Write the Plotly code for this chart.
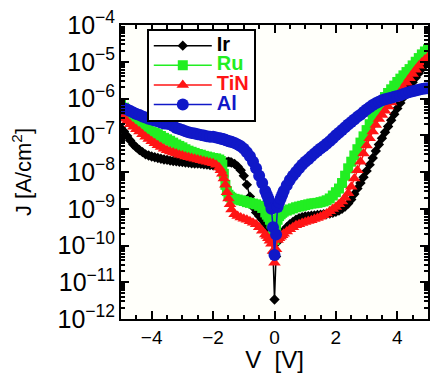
import plotly.graph_objects as go

# Voltage sweep points (V)
voltage = [-5.0, -4.9, -4.8, -4.7, -4.6, -4.5, -4.4, -4.3, -4.2, -4.1, -4.0, -3.9, -3.8, -3.7, -3.6, -3.5,
           -3.4, -3.3, -3.2, -3.1, -3.0, -2.9, -2.8, -2.7, -2.6, -2.5, -2.4, -2.3, -2.2, -2.1, -2.0,
           -1.9, -1.8, -1.75, -1.7, -1.65, -1.6, -1.55, -1.5, -1.45, -1.4, -1.3, -1.2, -1.1, -1.0, -0.9,
           -0.8, -0.7, -0.6, -0.5, -0.4, -0.3, -0.25, -0.2, -0.15, -0.1, -0.05, 0.0, 0.05, 0.1, 0.15,
           0.2, 0.25, 0.3,
           0.4, 0.5, 0.6, 0.7, 0.8, 0.9, 1.0, 1.1, 1.2, 1.3, 1.4, 1.5, 1.6, 1.7, 1.8, 1.9, 2.0, 2.1,
           2.2, 2.3, 2.4, 2.5, 2.6, 2.7, 2.8, 2.9, 3.0, 3.1, 3.2, 3.3, 3.4, 3.5, 3.6, 3.7, 3.8, 3.9,
           4.0, 4.1, 4.2, 4.3, 4.4, 4.5, 4.6, 4.7, 4.8, 4.9, 5.0]

# log10 of current density J [A/cm^2]
ir_log_j = [-6.80, -6.90, -7.02, -7.14, -7.25, -7.33, -7.40, -7.46, -7.52, -7.55, -7.58, -7.60, -7.62, -7.64, -7.66, -7.67,
            -7.69, -7.70, -7.71, -7.72, -7.73, -7.74, -7.75, -7.76, -7.77, -7.77, -7.78, -7.79, -7.80, -7.81, -7.82,
            -7.83, -7.84, -7.83, -7.82, -7.79, -7.76, -7.73, -7.72, -7.73, -7.74, -7.78, -7.85, -7.95, -8.10, -8.35,
            -8.67, -8.95, -9.10, -9.20, -9.30, -9.40, -9.46, -9.55, -9.66, -9.80, -10.20, -11.47, -10.30, -9.90, -9.78,
            -9.70, -9.65, -9.60,
            -9.50, -9.42, -9.36, -9.30, -9.26, -9.23, -9.21, -9.20, -9.19, -9.18, -9.17, -9.16, -9.15, -9.14, -9.13, -9.11, -9.08, -9.05,
            -9.00, -8.94, -8.86, -8.75, -8.60, -8.45, -8.30, -8.14, -7.97, -7.80, -7.62, -7.43, -7.25, -7.08, -6.92, -6.76, -6.59, -6.43,
            -6.27, -6.12, -5.97, -5.83, -5.69, -5.56, -5.43, -5.31, -5.19, -5.08, -4.98]

ru_log_j = [-6.17, -6.25, -6.35, -6.45, -6.55, -6.62, -6.68, -6.74, -6.80, -6.85, -6.90, -6.93, -6.97, -7.02, -7.07, -7.11,
            -7.15, -7.20, -7.25, -7.29, -7.33, -7.38, -7.42, -7.45, -7.48, -7.51, -7.53, -7.56, -7.58, -7.60, -7.62,
            -7.63, -7.66, -7.70, -7.80, -8.05, -8.35, -8.52, -8.62, -8.67, -8.70, -8.73, -8.75, -8.77, -8.79, -8.82,
            -8.84, -8.86, -8.88, -8.92, -8.98, -9.10, -9.16, -9.22, -9.30, -9.40, -9.60, -9.85, -9.55, -9.30, -9.20,
            -9.15, -9.11, -9.08,
            -9.05, -9.02, -8.99, -8.96, -8.94, -8.92, -8.90, -8.88, -8.86, -8.85, -8.84, -8.82, -8.80, -8.77, -8.72, -8.64, -8.55, -8.45,
            -8.30, -8.10, -7.90, -7.72, -7.55, -7.38, -7.20, -7.03, -6.86, -6.70, -6.54, -6.38, -6.22, -6.08, -5.96, -5.85, -5.75, -5.65,
            -5.55, -5.46, -5.37, -5.28, -5.20, -5.10, -5.00, -4.90, -4.80, -4.72, -4.66]

tin_log_j = [-6.47, -6.55, -6.62, -6.70, -6.77, -6.84, -6.90, -6.97, -7.04, -7.10, -7.16, -7.22, -7.27, -7.32, -7.37, -7.41,
             -7.44, -7.47, -7.50, -7.53, -7.55, -7.58, -7.60, -7.62, -7.64, -7.66, -7.68, -7.70, -7.72, -7.74, -7.76,
             -7.80, -7.88, -7.95, -8.05, -8.18, -8.35, -8.55, -8.72, -8.88, -9.02, -9.15, -9.20, -9.24, -9.27, -9.30,
             -9.34, -9.38, -9.42, -9.50, -9.60, -9.70, -9.74, -9.80, -9.87, -9.95, -10.15, -10.47, -10.10, -9.85, -9.80,
             -9.76, -9.72, -9.68,
             -9.62, -9.56, -9.50, -9.45, -9.42, -9.39, -9.36, -9.33, -9.31, -9.28, -9.25, -9.22, -9.18, -9.13, -9.07, -9.01, -8.95, -8.88,
             -8.80, -8.70, -8.58, -8.40, -8.18, -7.95, -7.72, -7.50, -7.28, -7.08, -6.90, -6.72, -6.56, -6.45, -6.33, -6.22, -6.11, -6.02,
             -5.93, -5.82, -5.70, -5.57, -5.45, -5.33, -5.22, -5.11, -5.02, -4.94, -4.87]

al_log_j = [-6.27, -6.27, -6.30, -6.34, -6.38, -6.42, -6.45, -6.49, -6.52, -6.55, -6.57, -6.60, -6.62, -6.65, -6.68, -6.69,
            -6.70, -6.75, -6.80, -6.83, -6.86, -6.89, -6.92, -6.94, -6.95, -6.97, -6.99, -7.01, -7.03, -7.04, -7.04,
            -7.06, -7.08, -7.09, -7.10, -7.11, -7.13, -7.14, -7.16, -7.17, -7.18, -7.21, -7.25, -7.30, -7.37, -7.46,
            -7.57, -7.72, -7.90, -8.10, -8.30, -8.52, -8.62, -8.72, -8.85, -9.00, -9.50, -10.26, -9.70, -8.95, -8.82,
            -8.72, -8.62, -8.52,
            -8.36, -8.22, -8.10, -8.00, -7.90, -7.80, -7.72, -7.65, -7.57, -7.50, -7.43, -7.36, -7.30, -7.23, -7.16, -7.08, -7.00, -6.93,
            -6.86, -6.78, -6.71, -6.64, -6.57, -6.50, -6.44, -6.37, -6.30, -6.24, -6.18, -6.13, -6.09, -6.05, -6.02, -6.00, -5.98, -5.95,
            -5.93, -5.91, -5.88, -5.85, -5.82, -5.80, -5.78, -5.76, -5.74, -5.73, -5.72]

series_names = ["Ir", "Ru", "TiN", "Al"]
series_data = [ir_log_j, ru_log_j, tin_log_j, al_log_j]
series_colors = ["#000000", "#22ee22", "#ff1515", "#1018c8"]
series_symbols = ["diamond", "square", "triangle-up", "circle"]
series_sizes = [8, 10, 11, 12]

FONT = "Liberation Sans, Arial, Helvetica, sans-serif"

fig = go.Figure()
for name, logs, color, sym, size in zip(series_names, series_data, series_colors, series_symbols, series_sizes):
    fig.add_trace(go.Scatter(
        x=voltage,
        y=[10 ** v for v in logs],
        mode="lines+markers",
        name=f'<span style="font-size:20px;color:{color}"><b>{name}</b></span>',
        line=dict(color=color, width=1.5),
        marker=dict(symbol=sym, size=size, color=color, line=dict(width=0)),
    ))

axis_common = dict(
    showline=True, linecolor="black", linewidth=2, mirror="allticks",
    ticks="inside", ticklen=8, tickwidth=1.5, tickcolor="black",
    showgrid=False, zeroline=False,
)

fig.update_layout(
    width=433, height=373,
    margin=dict(l=121, r=3, t=25, b=45),
    paper_bgcolor="white",
    plot_bgcolor="#fffffa",
    font=dict(family=FONT, color="black"),
    showlegend=True,
    legend=dict(
        x=0.084, y=0.987, xanchor="left", yanchor="top",
        bgcolor="white", bordercolor="black", borderwidth=2,
        font=dict(family=FONT, size=12.8, color="black"),
        itemwidth=58, tracegroupgap=0,
    ),
    xaxis=dict(
        range=[-5, 5], dtick=2, tick0=0,
        minor=dict(dtick=0.5, ticks="inside", ticklen=4, tickcolor="black", showgrid=False),
        title=dict(text="V\u00a0 [V]", font=dict(family=FONT, size=24), standoff=5),
        tickfont=dict(family=FONT, size=19, color="black"),
        **axis_common,
    ),
    yaxis=dict(
        type="log", range=[-12, -4], dtick=1, exponentformat="power",
        minor=dict(dtick="D1", ticks="inside", ticklen=4, tickcolor="black", showgrid=False),
        title=dict(text="J [A/cm<sup>2</sup>]", font=dict(family=FONT, size=22), standoff=20),
        tickfont=dict(family=FONT, size=20, color="black"),
        **axis_common,
    ),
)

fig.write_html("out.html")
